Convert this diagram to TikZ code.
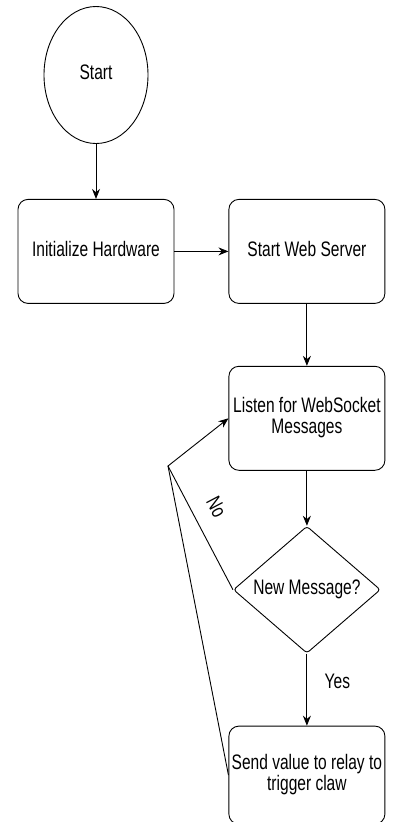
\documentclass[tikz,border=0pt]{standalone}
\usepackage{fontspec, graphicx}
\setmainfont{Liberation Sans}
\usetikzlibrary{shapes.geometric, positioning, arrows.meta}

% narrow two-line box text
\newcommand{\flowlabel}[1]{\scalebox{0.74}[1]{\begin{tabular}{@{}c@{}}#1\end{tabular}}}

\begin{document}
\begin{tikzpicture}[
    x=1pt, y=1pt,
    every node/.style={font=\fontsize{21}{20}\selectfont},
    startNode/.style={ellipse, draw, line width=0.9pt, minimum width=104pt, minimum height=137pt, inner sep=0pt},
    boxNode/.style={rectangle, rounded corners=10pt, draw, line width=0.9pt, minimum width=156pt, minimum height=104pt, inner sep=0pt},
    decisionNode/.style={diamond, rounded corners=3pt, draw, line width=0.9pt, minimum width=147pt, minimum height=127pt, aspect=1.16, inner sep=0pt},
    arrow/.style={-{Stealth[length=10pt, width=8pt]}, line width=0.9pt},
    plain/.style={line width=0.9pt}
  ]
  \useasboundingbox (0,0) rectangle (398,-822);

  % Main column
  \node[startNode] (start) at (96,-75) {\flowlabel{Start}};
  \node[boxNode, below=55pt of start] (init) {\flowlabel{Initialize Hardware}};
  \node[boxNode, right=54pt of init] (server) {\flowlabel{Start Web Server}};
  \node[boxNode, below=62pt of server] (listen) {\flowlabel{Listen for WebSocket\\Messages}};
  \node[decisionNode, below=55pt of listen] (check) {\flowlabel{New Message?}};
  \node[boxNode, minimum height=98pt, below=72pt of check] (send) {\flowlabel{Send value to relay to\\trigger claw}};

  % Loop back point
  \coordinate (back) at (168,-466);

  % Arrows
  \draw[arrow] (start) -- (init);
  \draw[arrow] (init) -- (server);
  \draw[arrow] (server) -- (listen);
  \draw[arrow] (listen) -- (check);
  \draw[arrow] (check) -- node[pos=0.42, right=14pt] (yes) {\flowlabel{Yes}} (send);
  \draw[arrow] (check.west) -- node[pos=0.58, sloped, above=7pt] (no) {\flowlabel{No}} (back) -- (listen.west);
  \draw[plain] (send.west) -- (back);

\end{tikzpicture}
\end{document}
